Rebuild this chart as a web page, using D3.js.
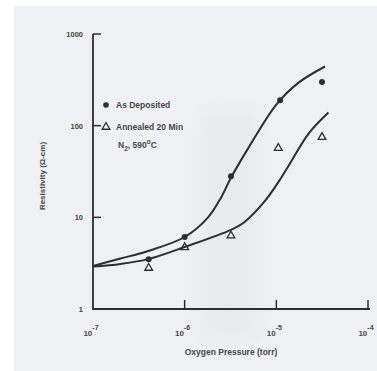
<!DOCTYPE html>
<html>
<head>
<meta charset="utf-8">
<script src="https://cdn.jsdelivr.net/npm/d3@7"></script>
<style>
html,body{margin:0;padding:0;background:#fff;}
svg{display:block;}
text{font-family:"Liberation Sans",Arial,sans-serif;fill:#474747;font-weight:bold;}
</style>
</head>
<body>
<script>
// ---- data ----
const xTickExponents = [-7, -6, -5, -4];
const yTickValues = [1, 10, 100, 1000];
const yTickLabels = ["1", "10", "100", "1000"];

// measured points
const depositedPressure = [4.05e-7, 1.0e-6, 3.2e-6, 1.1e-5, 3.15e-5];
const depositedResistivity = [3.5, 6.1, 28, 189, 300];
const annealedPressure = [4.05e-7, 1.0e-6, 3.2e-6, 1.05e-5, 3.15e-5];
const annealedResistivity = [2.8, 4.7, 6.3, 57, 75];

// fitted curves (hand drawn in the original)
const upperCurvePressure = [1e-7, 2e-7, 4e-7, 1e-6, 1.8e-6, 2.5e-6, 3.2e-6, 5e-6, 1e-5, 1.75e-5, 3.4e-5];
const upperCurveResistivity = [2.95, 3.55, 4.3, 6.1, 10, 16.5, 27, 58, 170, 295, 442];
const lowerCurvePressure = [1e-7, 2e-7, 4e-7, 1e-6, 3.2e-6, 4.5e-6, 7.4e-6, 1.13e-5, 1.35e-5, 2.25e-5, 3.7e-5];
const lowerCurveResistivity = [2.9, 3.1, 3.5, 4.75, 7.3, 8.9, 14.8, 27, 36, 82, 139];

const legendLabels = ["As Deposited", "Annealed 20 Min"];
const xTitle = "Oxygen Pressure (torr)";
const yTitle = "Resistivity (\u03A9-cm)";

// ---- drawing ----
const W = 377, H = 371;
const svg = d3.select("body").append("svg").attr("width", W).attr("height", H);

// scanned paper
const defs = svg.append("defs");
const blur = defs.append("filter").attr("id","soft").attr("x","-50%").attr("y","-50%").attr("width","200%").attr("height","200%");
blur.append("feGaussianBlur").attr("stdDeviation", 10);
svg.append("rect").attr("x",14).attr("y",6).attr("width",W-14).attr("height",H-6).attr("fill","#eef0f3");
svg.append("rect").attr("x",200).attr("y",110).attr("width",60).attr("height",230)
  .attr("fill","#e0e2e4").attr("opacity",0.4).attr("filter","url(#soft)");

const x = d3.scaleLog().domain([1e-7, 1e-4]).range([93, 368]);
const y = d3.scaleLog().domain([1, 1000]).range([309, 34]);

const ink = "#2e2e2e";

// axes
const g = svg.append("g");
g.append("line").attr("x1", x(1e-7)).attr("x2", x(1e-7)).attr("y1", y(1000)).attr("y2", y(1))
  .attr("stroke", ink).attr("stroke-width", 1.8);
g.append("line").attr("x1", x(1e-7)-0.9).attr("x2", x(1e-4)+2).attr("y1", y(1)).attr("y2", y(1))
  .attr("stroke", ink).attr("stroke-width", 1.8);

// y ticks (inward) + labels
yTickValues.forEach((v, i) => {
  if (v !== 1) {
    g.append("line").attr("x1", x(1e-7)).attr("x2", x(1e-7) + 8).attr("y1", y(v)).attr("y2", y(v))
      .attr("stroke", ink).attr("stroke-width", 1.5);
  }
  g.append("text").attr("x", 83).attr("y", y(v) + 3).attr("text-anchor", "end")
    .attr("font-size", 7.5).text(yTickLabels[i]);
});

// x ticks (inward) + labels
xTickExponents.forEach(e => {
  const xv = x(Math.pow(10, e));
  if (e !== -7) {
    g.append("line").attr("x1", xv).attr("x2", xv).attr("y1", y(1)).attr("y2", y(1) - 9)
      .attr("stroke", ink).attr("stroke-width", 1.5);
  }
  const t = g.append("text").attr("x", xv - 2).attr("y", 336).attr("text-anchor", "middle").attr("font-size", 8);
  t.append("tspan").text("10");
  t.append("tspan").attr("dy", -6).attr("font-size", 7).text(String(e));
});

// axis titles
g.append("text").attr("x", 231).attr("y", 355).attr("text-anchor", "middle").attr("font-size", 8.5).text(xTitle);
g.append("text").attr("transform", "translate(45,176) rotate(-90)").attr("text-anchor", "middle")
  .attr("font-size", 8).text(yTitle);

// curves
const line = d3.line().x(d => x(d[0])).y(d => y(d[1])).curve(d3.curveCatmullRom.alpha(0.5));
const upper = upperCurvePressure.map((p, i) => [p, upperCurveResistivity[i]]);
const lower = lowerCurvePressure.map((p, i) => [p, lowerCurveResistivity[i]]);
svg.append("path").attr("d", line(upper)).attr("fill", "none").attr("stroke", ink).attr("stroke-width", 2);
svg.append("path").attr("d", line(lower)).attr("fill", "none").attr("stroke", ink).attr("stroke-width", 2);

// points
const tri = d3.symbol().type(d3.symbolTriangle).size(26);
svg.selectAll("circle.dep").data(depositedPressure.map((p, i) => [p, depositedResistivity[i]]))
  .enter().append("circle").attr("cx", d => x(d[0])).attr("cy", d => y(d[1])).attr("r", 3)
  .attr("fill", ink);
svg.selectAll("path.ann").data(annealedPressure.map((p, i) => [p, annealedResistivity[i]]))
  .enter().append("path").attr("d", tri)
  .attr("transform", d => `translate(${x(d[0])},${y(d[1])})`)
  .attr("fill", "none").attr("stroke", ink).attr("stroke-width", 1.3);

// legend
svg.append("circle").attr("cx", 106).attr("cy", 105).attr("r", 2.8).attr("fill", ink);
svg.append("text").attr("x", 116).attr("y", 108).attr("font-size", 8.5).text(legendLabels[0]);
svg.append("path").attr("d", tri).attr("transform", "translate(106,127)")
  .attr("fill", "none").attr("stroke", ink).attr("stroke-width", 1.3);
svg.append("text").attr("x", 116).attr("y", 130).attr("font-size", 8.5).text(legendLabels[1]);
const n2 = svg.append("text").attr("x", 118).attr("y", 148).attr("font-size", 8.5);
n2.append("tspan").text("N");
n2.append("tspan").attr("dy", 3).attr("font-size", 6.5).text("2");
n2.append("tspan").attr("dy", -3).text(", 590");
n2.append("tspan").attr("dy", -4).attr("font-size", 6.5).text("o");
n2.append("tspan").attr("dy", 4).text("C");
</script>
</body>
</html>
